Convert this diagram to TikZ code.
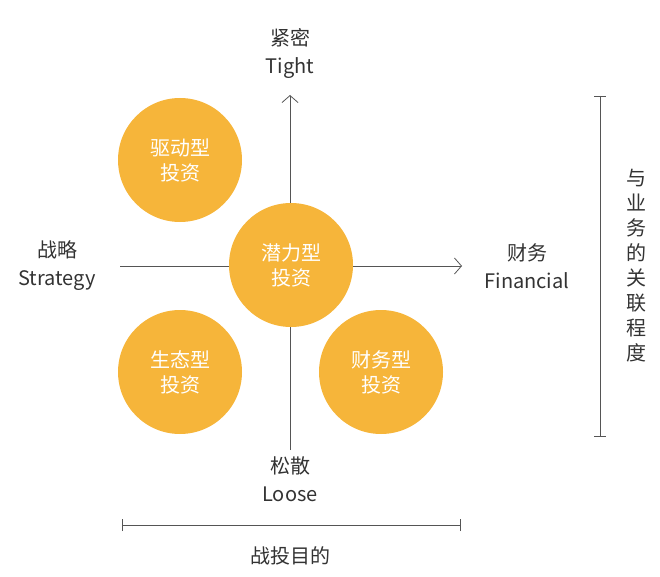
\documentclass[tikz,border=0pt]{standalone}
\usepackage{fontspec}
\setmainfont{Noto Sans CJK SC}
\usetikzlibrary{arrows.meta,positioning}
\definecolor{quadgold}{HTML}{F6B53A}
\definecolor{axisgray}{HTML}{555555}
\definecolor{textgray}{HTML}{333333}
\tikzset{
  quad/.style = {circle, fill=quadgold, minimum size=124pt, inner sep=0pt,
                 text=white, align=center, font=\fontsize{20}{25}\selectfont},
  axislabel/.style = {text=textgray, align=center, font=\fontsize{20}{28}\selectfont},
  axisline/.style = {draw=axisgray, line width=0.8pt},
}
\begin{document}
\begin{tikzpicture}[x=1pt, y=-1pt]
	\useasboundingbox (0,0) rectangle (660,577);
	% axes
	\coordinate (vtop) at (290,95);
	\coordinate (vbot) at (290,450);
	\coordinate (hleft) at (120,266);
	\coordinate (hright) at (462,266);
	\draw[axisline, -{Straight Barb[length=7pt,width=16pt]}] (vbot) -- (vtop);
	\draw[axisline, -{Straight Barb[length=7pt,width=16pt]}] (hleft) -- (hright);
	% quadrants
	\node[quad] (drive) at (180,160) {驱动型\\投资};
	\node[quad] (eco)   at (180,372) {生态型\\投资};
	\node[quad] (fin)   at (381,372) {财务型\\投资};
	\node[quad] (pot)   at (291,265) {潜力型\\投资};
	% axis labels
	\node[axislabel] (tight)    at (290,54)  {紧密\\Tight};
	\node[axislabel] (strategy) at (57,266)  {战略\\Strategy};
	\node[axislabel] (financial) at (527,266) {财务\\Financial};
	\node[axislabel] (loose)    at (290,479) {松散\\Loose};
	% brackets
	\coordinate (rtop) at (600,96);
	\coordinate (rbot) at (600,436);
	\draw[axisline] (rtop) -- (rbot);
	\draw[axisline] ([xshift=-6pt]rtop) -- ([xshift=6pt]rtop);
	\draw[axisline] ([xshift=-6pt]rbot) -- ([xshift=6pt]rbot);
	\node[axislabel, font=\fontsize{20}{25}\selectfont] (degree) at (636,266)
	  {与\\业\\务\\的\\关\\联\\程\\度};
	\coordinate (bleft) at (122,525);
	\coordinate (bright) at (460,525);
	\draw[axisline] (bleft) -- (bright);
	\draw[axisline] ([yshift=-6pt]bleft) -- ([yshift=6pt]bleft);
	\draw[axisline] ([yshift=-6pt]bright) -- ([yshift=6pt]bright);
	\node[axislabel] (purpose) at (290,556) {战投目的};
\end{tikzpicture}
\end{document}
